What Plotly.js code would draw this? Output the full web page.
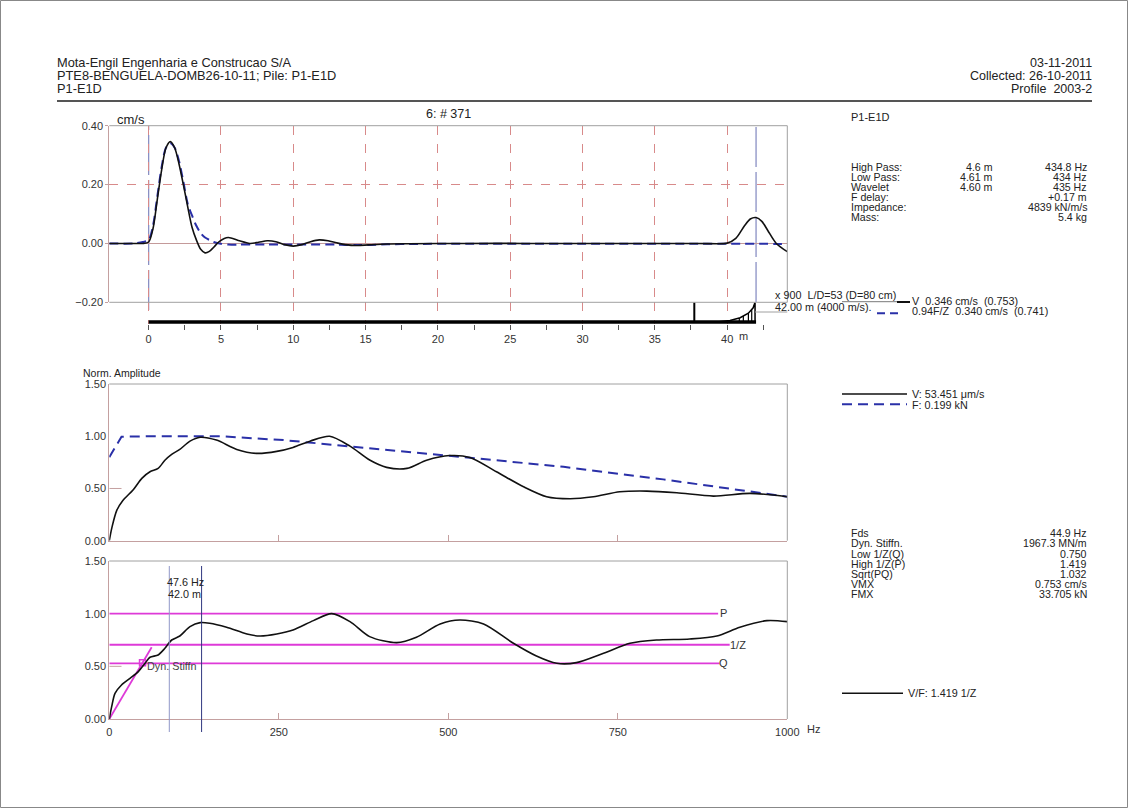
<!DOCTYPE html>
<html><head><meta charset="utf-8">
<script src="https://cdn.plot.ly/plotly-3.0.1.min.js"></script>
<style>html,body{margin:0;padding:0;background:#fff;}#chart{width:1128px;height:808px;}</style>
</head><body><div id="chart"></div>
<script>
// ---------- data: top panel (velocity / force vs depth, m) ----------
const depthM   = [-2.72,-1,-0.4,0,0.3,0.6,0.9,1.2,1.5,1.8,2.1,2.4,2.7,3.0,3.3,3.6,3.9,4.2,4.5,4.9,5.5,6.2,7.0,7.6,8.2,8.8,9.4,10.0,10.6,11.2,11.8,12.4,13.0,13.6,14.4,15.2,16.5,18,22,26,30,34,38,40,40.6,41.2,41.6,42.0,42.4,42.8,43.4,44.16];
const velocity = [0,0,0,0.005,0.05,0.15,0.25,0.325,0.346,0.325,0.27,0.2,0.125,0.055,0.012,-0.02,-0.032,-0.027,-0.013,0.007,0.02,0.01,0,0.004,0.009,0.006,-0.004,-0.009,-0.004,0.006,0.012,0.009,0.002,-0.004,-0.007,-0.005,-0.002,-0.001,0,0,0,0,0,0.001,0.017,0.06,0.083,0.088,0.075,0.045,0,-0.028];
const forceZ   = [0,0,0.005,0.012,0.06,0.16,0.26,0.325,0.34,0.325,0.28,0.21,0.135,0.095,0.06,0.035,0.02,0.012,0.005,0,-0.004,-0.004,-0.004,-0.004,-0.004,-0.004,-0.004,-0.004,-0.004,-0.004,-0.004,-0.004,-0.004,-0.005,-0.005,-0.005,-0.003,-0.002,-0.001,-0.001,-0.001,-0.001,-0.001,-0.001,-0.001,-0.001,-0.001,-0.001,-0.001,-0.001,-0.002,-0.002];
const pileLength = 42.0;
const yTicksTop = [-0.2,0,0.2,0.4];
const xMinorTop = [2.5,7.5,12.5,17.5,22.5,27.5,32.5,37.5,42.5];
// pile profile (relative impedance band)
const shaftX = [0,42]; const shaftY = [0,0];
const neckX = [37.73,37.73]; const neckY = [0,1];
const toeX = [39.3,40.2,40.9,41.47,41.8,41.93,41.93]; const toeY = [0,0.08,0.22,0.45,0.72,1.0,0];
const hatchX = [40.84,41.12,41.47,41.7]; const hatchTop = [0.2,0.3,0.45,0.64];

// ---------- middle panel (normalised amplitude vs Hz) ----------
const freqAmp = [0,4,11,20,35,48,60,72,82,92,104,119,134,158,188,217,247,271,296,325,355,384,409,439,468,502,532,571,611,645,680,714,753,793,837,891,945,1000];
const velAmp  = [0,0.13,0.29,0.385,0.485,0.597,0.66,0.692,0.77,0.826,0.874,0.953,0.99,0.963,0.874,0.836,0.855,0.893,0.953,1.0,0.905,0.772,0.702,0.692,0.77,0.815,0.797,0.66,0.516,0.421,0.402,0.421,0.468,0.475,0.459,0.427,0.453,0.421];
const freqForce = [0,18,60,163,257,355,502,522,670,817,1000];
const forceAmp  = [0.8,0.995,1.0,1.0,0.963,0.905,0.815,0.80,0.707,0.587,0.421];

// ---------- bottom panel (mobility V/F vs Hz) ----------
const freqMob = [0,3.5,8.4,18,30.5,42.8,52.7,60,72,82,92,104,119,134,148,173,203,222,247,271,301,328,355,384,424,453,488,517,552,596,630,660,689,729,768,807,856,896,930,970,1000];
const mobility = [0,0.117,0.244,0.323,0.386,0.45,0.529,0.586,0.608,0.671,0.75,0.788,0.877,0.915,0.909,0.871,0.807,0.788,0.807,0.845,0.934,1.0,0.924,0.782,0.725,0.776,0.902,0.94,0.902,0.719,0.598,0.529,0.535,0.624,0.719,0.75,0.76,0.788,0.871,0.934,0.924];
const levelNames = ['P','1/Z','Q'];
const levelValues = [1.0,0.705,0.529];
const levelEnds = [898,915,900];
const stiffX = [0,62.5]; const stiffY = [0,0.681];
const stiffPt = [49,0.535];
const markerFreqs = [88.5,136.1];
const yTicksAmp = [0,0.5,1.0,1.5];
const xTicksHz = [0,250,500,750,1000];

// ---------- text ----------
const headerLeft = ['Mota-Engil Engenharia e Construcao S/A','PTE8-BENGUELA-DOMB26-10-11; Pile: P1-E1D','P1-E1D'];
const headerRight = ['03-11-2011','Collected: 26-10-2011','Profile\u00a0 2003-2'];
const filterLabels = ['High Pass:','Low Pass:','Wavelet','F delay:','Impedance:','Mass:'];
const filterLen = ['4.6 m','4.61 m','4.60 m','','',''];
const filterVal = ['434.8 Hz','434 Hz','435 Hz','+0.17 m','4839 kN/m/s','5.4 kg'];
const statLabels = ['Fds','Dyn. Stiffn.','Low 1/Z(Q)','High 1/Z(P)','Sqrt(PQ)','VMX','FMX'];
const statVals = ['44.9 Hz','1967.3 MN/m','0.750','1.419','1.032','0.753 cm/s','33.705 kN'];

// ---------- layout helpers ----------
const W=1128,H=808,F='Liberation Sans, Arial, sans-serif';
const X0=109.3,X1=787.3;
const px=v=>v/W, py=v=>1-v/H;
const AX='#c4a0a0', GRID='#d88a8a', BORDER='#a0a0a0', TXT='#222', BLUE='#2a30a8', MAG='#de3ad8';
const T=(x,y,text,xa='left',size=11,color=TXT)=>({xref:'paper',yref:'paper',
  x:px(xa==='left'?x-1:(xa==='right'?x+1:x)),y:py(y),text:text,xanchor:xa,yanchor:'middle',showarrow:false,borderpad:0,
  font:{family:F,size:size,color:color}});
const L=(x0,y0,x1,y1,color,width,dash)=>({type:'line',xref:'paper',yref:'paper',x0:px(x0),y0:py(y0),x1:px(x1),y1:py(y1),line:{color:color,width:width,dash:dash||'solid'},layer:'above'});

const traces=[];
traces.push({x:depthM,y:forceZ,xaxis:'x',yaxis:'y',mode:'lines',line:{color:BLUE,width:2,dash:'9px,5px',shape:'spline',smoothing:0.8},hoverinfo:'skip'});
traces.push({x:depthM,y:velocity,xaxis:'x',yaxis:'y',mode:'lines',line:{color:'#111',width:1.6,shape:'spline',smoothing:0.8},hoverinfo:'skip'});
traces.push({x:shaftX,y:shaftY,xaxis:'x',yaxis:'y4',mode:'lines',line:{color:'#000',width:3.5},hoverinfo:'skip'});
traces.push({x:neckX,y:neckY,xaxis:'x',yaxis:'y4',mode:'lines',line:{color:'#000',width:2},hoverinfo:'skip'});
traces.push({x:toeX,y:toeY,xaxis:'x',yaxis:'y4',mode:'lines',line:{color:'#000',width:1.5,shape:'linear'},hoverinfo:'skip'});
const hx=[],hy=[];
hatchX.forEach((v,i)=>{hx.push(v,v,null);hy.push(0,hatchTop[i],null);});
traces.push({x:hx,y:hy,xaxis:'x',yaxis:'y4',mode:'lines',line:{color:'#000',width:1.2},hoverinfo:'skip'});
// middle
traces.push({x:freqForce,y:forceAmp,xaxis:'x2',yaxis:'y2',mode:'lines',line:{color:BLUE,width:2,dash:'10px,6px'},hoverinfo:'skip'});
traces.push({x:freqAmp,y:velAmp,xaxis:'x2',yaxis:'y2',mode:'lines',line:{color:'#111',width:1.6,shape:'spline',smoothing:0.8},hoverinfo:'skip'});
// bottom
levelValues.forEach((v,i)=>{traces.push({x:[0,levelEnds[i]],y:[v,v],xaxis:'x3',yaxis:'y3',mode:'lines',line:{color:MAG,width:1.8},hoverinfo:'skip'});});
traces.push({x:stiffX,y:stiffY,xaxis:'x3',yaxis:'y3',mode:'lines',line:{color:MAG,width:1.8},hoverinfo:'skip'});
traces.push({x:[stiffPt[0]],y:[stiffPt[1]],xaxis:'x3',yaxis:'y3',mode:'markers',marker:{symbol:'square-open',size:6,color:MAG,line:{width:1.5,color:MAG}},hoverinfo:'skip'});
traces.push({x:freqMob,y:mobility,xaxis:'x3',yaxis:'y3',mode:'lines',line:{color:'#111',width:1.6,shape:'spline',smoothing:0.8},hoverinfo:'skip'});

const tickFont={family:F,size:11,color:'#333'};
const xdom=[px(X0),px(X1)];
const layout={
  width:W,height:H,margin:{l:0,r:0,t:0,b:0},paper_bgcolor:'#fff',plot_bgcolor:'#fff',showlegend:false,
  xaxis:{domain:xdom,range:[-2.72,44.16],anchor:'free',position:py(324),showline:false,zeroline:false,
    tick0:0,dtick:5,ticks:'outside',ticklen:5,tickcolor:'#555',tickfont:tickFont,
    showgrid:true,gridcolor:GRID,griddash:'dash',gridwidth:1,
    minor:{tickmode:'array',tickvals:xMinorTop,ticks:'outside',ticklen:5,tickcolor:'#555',showgrid:false}},
  yaxis:{domain:[py(302.3),py(125.7)],range:[-0.2,0.4],anchor:'x',tickvals:yTicksTop,tickformat:'.2f',
    ticks:'outside',ticklen:3,tickcolor:AX,tickfont:tickFont,showline:true,linecolor:AX,linewidth:1,
    showgrid:true,gridcolor:GRID,griddash:'dash',zeroline:true,zerolinecolor:'#c49a9a',zerolinewidth:1},
  yaxis4:{domain:[py(324),py(302.3)],range:[-0.1,1],anchor:'x',visible:false,showgrid:false,zeroline:false},
  xaxis2:{domain:xdom,range:[0,1000],anchor:'y2',tickvals:[250,500,750],showticklabels:false,ticks:'inside',ticklen:6,
    tickcolor:AX,showline:true,linecolor:AX,showgrid:false,zeroline:false},
  yaxis2:{domain:[py(540.7),py(384)],range:[0,1.5],anchor:'x2',tickvals:yTicksAmp,tickformat:'.2f',ticks:'',tickfont:tickFont,
    showline:true,linecolor:AX,showgrid:false,zeroline:false},
  xaxis3:{domain:xdom,range:[0,1000],anchor:'y3',tickvals:xTicksHz,ticks:'inside',ticklen:6,tickcolor:AX,tickfont:tickFont,
    ticklabelstandoff:3,showline:true,linecolor:AX,showgrid:false,zeroline:false},
  yaxis3:{domain:[py(719),py(561)],range:[0,1.5],anchor:'x3',tickvals:yTicksAmp,tickformat:'.2f',ticks:'',tickfont:tickFont,
    showline:true,linecolor:AX,showgrid:false,zeroline:false},
  shapes:[],annotations:[]
};
const S=layout.shapes, A=layout.annotations;
// page frame + header rule
S.push({type:'rect',xref:'paper',yref:'paper',x0:px(0.5),y0:py(807.5),x1:px(1127.5),y1:py(0.5),line:{color:'#888',width:1},layer:'below'});
S.push(L(57,101,1092,101,'#555',2));
// panel borders
[['x','y'],['x2','y2'],['x3','y3']].forEach(([xa,ya])=>{
  S.push({type:'line',xref:xa+' domain',yref:ya+' domain',x0:0,x1:1,y0:1,y1:1,line:{color:BORDER,width:1},layer:'above'});
  S.push({type:'line',xref:xa+' domain',yref:ya+' domain',x0:1,x1:1,y0:0,y1:1,line:{color:BORDER,width:1},layer:'above'});
});
S.push({type:'line',xref:'x domain',yref:'y domain',x0:0,x1:1,y0:0,y1:0,line:{color:BORDER,width:1},layer:'above'});
S.push(L(755,312,787.3,312,BORDER,1));
// pile head / toe markers
S.push({type:'line',xref:'x',yref:'paper',x0:0,x1:0,y0:py(310),y1:py(125.7),line:{color:'#8a90c4',width:1.3,dash:'40px,5px'},layer:'between'});
S.push({type:'line',xref:'x',yref:'paper',x0:pileLength,x1:pileLength,y0:py(302),y1:py(125.7),line:{color:'#8a90c4',width:1.3,dash:'40px,5px'},layer:'between'});
// small ticks at 0.5
S.push({type:'line',xref:'x2',yref:'y2',x0:0,x1:18,y0:0.5,y1:0.5,line:{color:AX,width:1}});
S.push({type:'line',xref:'x3',yref:'y3',x0:0,x1:18,y0:0.5,y1:0.5,line:{color:AX,width:1}});
// frequency marker lines
S.push({type:'line',xref:'x3',yref:'paper',x0:markerFreqs[0],x1:markerFreqs[0],y0:py(732),y1:py(566),line:{color:'#9098c8',width:1}});
S.push({type:'line',xref:'x3',yref:'paper',x0:markerFreqs[1],x1:markerFreqs[1],y0:py(732),y1:py(566),line:{color:'#303880',width:1}});
// legend samples
S.push(L(842,301.7,897,301.7,'#555',0.8));
S.push(L(897,302,910,302,'#111',2));
S.push(L(877,313.3,902,313.3,BLUE,2,'8px,5px'));
S.push(L(842,394,907,394,'#111',1.6));
S.push(L(842,404.3,907,404.3,BLUE,2,'10px,6px'));
S.push(L(842,693.3,903,693.3,'#111',1.6));

// header text
headerLeft.forEach((t,i)=>A.push(T(57,63+i*13,t,'left',12.8)));
headerRight.forEach((t,i)=>A.push(T(1092,63+i*13,t,'right',12.5)));
// top panel text
A.push(T(117,119,'cm/s','left',13));
A.push(T(448,114,'6: # 371','center',12.5));
A.push(T(743,336,'m','center',11,'#333'));
A.push(T(851,117,'P1-E1D','left',11));
filterLabels.forEach((t,i)=>{
  const y=166.7+i*10.15;
  A.push(T(851,y,t,'left',10.6));
  if(filterLen[i]) A.push(T(992.5,y,filterLen[i],'right',10.6));
  A.push(T(1087,y,filterVal[i],'right',10.6));
});
A.push(T(775,295,'x 900\u00a0 L/D=53 (D=80 cm)','left',10.8));
A.push(T(775,307,'42.00 m (4000 m/s).','left',10.8));
A.push(T(912,301.5,'V\u00a0 0.346 cm/s\u00a0 (0.753)','left',10.8));
A.push(T(912,311.5,'0.94F/Z\u00a0 0.340 cm/s\u00a0 (0.741)','left',10.8));
// middle
A.push(T(83,373,'Norm. Amplitude','left',10.5));
A.push(T(912,394,'V: 53.451 \u03bcm/s','left',10.8));
A.push(T(912,405,'F: 0.199 kN','left',10.8));
statLabels.forEach((t,i)=>{
  const y=533.3+i*10.15;
  A.push(T(851,y,t,'left',10.6));
  A.push(T(1087,y,statVals[i],'right',10.6));
});
// bottom
A.push(T(720,613,levelNames[0],'left',11,'#333'));
A.push(T(730,645,levelNames[1],'left',11,'#333'));
A.push(T(719,663,levelNames[2],'left',11,'#333'));
A.push(T(147,666,'Dyn. Stiffn','left',10.8,'#444'));
A.push(T(185,582,'47.6 Hz','center',10.8));
A.push(T(184,594,'42.0 m','center',10.8));
A.push(T(813,729,'Hz','center',11,'#333'));
A.push(T(908,693,'V/F: 1.419 1/Z','left',10.8));

Plotly.newPlot('chart',traces,layout,{staticPlot:true,displayModeBar:false});
</script></body></html>
